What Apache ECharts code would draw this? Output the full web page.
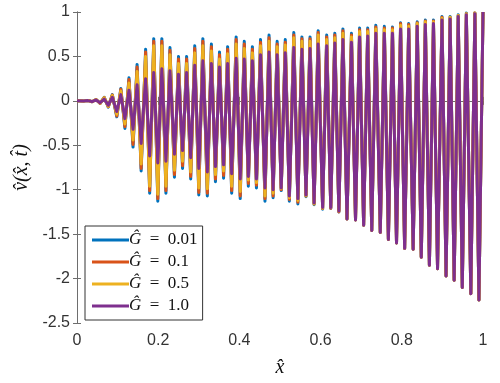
<!DOCTYPE html>
<html>
<head>
<meta charset="utf-8">
<script src="https://cdn.jsdelivr.net/npm/echarts@6/dist/echarts.min.js"></script>
<style>
  html, body { margin: 0; padding: 0; background: #fff; }
  #chart { width: 500px; height: 383px; }
</style>
</head>
<body>
<div id="chart"></div>
<script>
// extrema of the oscillation (x-hat positions)
const xs = [0, 0.016, 0.027, 0.037, 0.047, 0.057, 0.067, 0.077, 0.087, 0.098, 0.108,
  0.118, 0.128, 0.138, 0.148, 0.158, 0.169, 0.179, 0.189, 0.199, 0.209,
  0.219, 0.229, 0.240, 0.250, 0.260, 0.270, 0.280, 0.290, 0.300, 0.310,
  0.321, 0.331, 0.341, 0.351, 0.361, 0.371, 0.381, 0.392, 0.402, 0.412,
  0.422, 0.432, 0.442, 0.452, 0.463, 0.473, 0.483, 0.493, 0.503, 0.513,
  0.523, 0.534, 0.544, 0.554, 0.564, 0.574, 0.584, 0.594, 0.605, 0.615,
  0.625, 0.635, 0.645, 0.655, 0.665, 0.676, 0.686, 0.696, 0.706, 0.716,
  0.726, 0.736, 0.747, 0.757, 0.767, 0.777, 0.787, 0.797, 0.807, 0.817,
  0.828, 0.838, 0.848, 0.858, 0.868, 0.878, 0.888, 0.899, 0.909, 0.919,
  0.929, 0.939, 0.949, 0.959, 0.970, 0.980, 0.990, 1.000];

// G = 0.01
const vBlue = [0, -0.003, 0.005, -0.010, 0.015, -0.03, 0.04, -0.07, 0.07, -0.18, 0.14,
  -0.31, 0.26, -0.52, 0.41, -0.79, 0.58, -1.04, 0.70, -1.13, 0.70,
  -1.04, 0.60, -0.86, 0.50, -0.76, 0.50, -0.88, 0.62, -1.06, 0.70,
  -1.07, 0.64, -0.91, 0.55, -0.87, 0.61, -1.04, 0.72, -1.10, 0.67,
  -0.96, 0.61, -0.98, 0.69, -1.13, 0.74, -1.09, 0.67, -1.01, 0.69,
  -1.13, 0.77, -1.16, 0.72, -1.08, 0.72, -1.17, 0.79, -1.22, 0.74,
  -1.21, 0.76, -1.25, 0.81, -1.33, 0.76, -1.34, 0.82, -1.40, 0.82,
  -1.46, 0.85, -1.48, 0.84, -1.56, 0.83, -1.60, 0.88, -1.66, 0.87,
  -1.67, 0.89, -1.76, 0.91, -1.85, 0.91, -1.89, 0.95, -1.97, 0.95,
  -2.02, 0.97, -2.10, 0.99, -2.17, 0.99, -2.24, 1.00];

// G = 0.1
const vOrange = [0, -0.003, 0.005, -0.010, 0.014, -0.028, 0.038, -0.066, 0.066, -0.17, 0.13,
  -0.29, 0.24, -0.49, 0.38, -0.76, 0.55, -1.01, 0.67, -1.10, 0.67,
  -1.01, 0.57, -0.83, 0.47, -0.73, 0.47, -0.85, 0.59, -1.03, 0.67,
  -1.04, 0.61, -0.88, 0.52, -0.84, 0.58, -1.01, 0.69, -1.07, 0.64,
  -0.93, 0.58, -0.95, 0.66, -1.10, 0.71, -1.07, 0.64, -1.00, 0.66,
  -1.11, 0.74, -1.14, 0.70, -1.07, 0.70, -1.16, 0.77, -1.21, 0.72,
  -1.21, 0.74, -1.25, 0.79, -1.33, 0.74, -1.34, 0.80, -1.40, 0.80,
  -1.46, 0.83, -1.48, 0.82, -1.56, 0.82, -1.60, 0.87, -1.66, 0.86,
  -1.67, 0.88, -1.76, 0.90, -1.85, 0.90, -1.89, 0.94, -1.97, 0.94,
  -2.02, 0.96, -2.10, 0.98, -2.17, 0.99, -2.24, 1.00];

// G = 0.5
const vYellow = [0, -0.003, 0.004, -0.009, 0.013, -0.026, 0.035, -0.062, 0.06, -0.15, 0.11,
  -0.26, 0.20, -0.44, 0.33, -0.71, 0.50, -0.96, 0.62, -1.05, 0.62,
  -0.96, 0.52, -0.78, 0.42, -0.68, 0.42, -0.80, 0.54, -0.98, 0.62,
  -0.99, 0.56, -0.83, 0.47, -0.79, 0.53, -0.96, 0.64, -1.02, 0.59,
  -0.89, 0.54, -0.92, 0.62, -1.07, 0.67, -1.04, 0.61, -0.99, 0.63,
  -1.09, 0.71, -1.12, 0.67, -1.07, 0.67, -1.16, 0.74, -1.21, 0.69,
  -1.20, 0.71, -1.24, 0.76, -1.33, 0.72, -1.34, 0.78, -1.40, 0.78,
  -1.46, 0.81, -1.48, 0.80, -1.56, 0.80, -1.60, 0.85, -1.66, 0.84,
  -1.67, 0.87, -1.76, 0.89, -1.85, 0.89, -1.89, 0.93, -1.97, 0.94,
  -2.02, 0.96, -2.10, 0.98, -2.17, 0.99, -2.24, 1.00];

// G = 1.0
const vPurple = [0, -0.002, 0.003, -0.008, 0.010, -0.02, 0.02, -0.05, 0.04, -0.12, 0.07,
  -0.20, 0.12, -0.32, 0.18, -0.48, 0.25, -0.62, 0.32, -0.70, 0.36,
  -0.68, 0.34, -0.60, 0.30, -0.56, 0.32, -0.64, 0.40, -0.76, 0.45,
  -0.80, 0.42, -0.74, 0.38, -0.72, 0.42, -0.82, 0.48, -0.88, 0.47,
  -0.85, 0.45, -0.88, 0.52, -0.98, 0.55, -1.00, 0.52, -0.98, 0.54,
  -1.07, 0.60, -1.10, 0.58, -1.06, 0.59, -1.15, 0.64, -1.20, 0.62,
  -1.20, 0.65, -1.24, 0.69, -1.33, 0.66, -1.34, 0.72, -1.40, 0.73,
  -1.46, 0.76, -1.48, 0.76, -1.56, 0.76, -1.60, 0.81, -1.66, 0.81,
  -1.67, 0.84, -1.76, 0.86, -1.85, 0.87, -1.89, 0.91, -1.97, 0.92,
  -2.02, 0.95, -2.10, 0.97, -2.17, 0.98, -2.24, 1.00];

const gValues = ["0.01", "0.1", "0.5", "1.0"];
const colors = ["#0072BD", "#D95319", "#EDB120", "#7E2F8E"];
const xTicks = [0, 0.2, 0.4, 0.6, 0.8, 1];
const yTicks = [1, 0.5, 0, -0.5, -1, -1.5, -2, -2.5];

const allVals = [vBlue, vOrange, vYellow, vPurple];
const axisColor = "#6e6e6e";
const labelColor = "#333";

const myChart = echarts.init(document.getElementById("chart"));

const series = allVals.map((vals, i) => ({
  name: "G" + gValues[i],
  type: "line",
  showSymbol: false,
  symbol: "none",
  data: xs.map((x, k) => [x, vals[k]]),
  lineStyle: { color: colors[i], width: 3, join: "round" },
  itemStyle: { color: colors[i] },
  xAxisIndex: 0,
  yAxisIndex: 0,
}));

myChart.setOption({
  animation: false,
  grid: { left: 77, right: 17, top: 12, bottom: 60 },
  legend: {
    orient: "vertical",
    left: 85,
    top: 226,
    padding: [5, 5, 5, 7],
    itemGap: 4,
    itemWidth: 37,
    itemHeight: 3,
    icon: "rect",
    backgroundColor: "#fff",
    borderColor: "#333",
    borderWidth: 1,
    borderRadius: 0,
    data: series.map((s) => s.name),
    formatter: (name) => {
      const i = series.findIndex((s) => s.name === name);
      return "{g|G\u0302}\u2002=\u2002" + gValues[i];
    },
    textStyle: {
      fontFamily: "Liberation Serif",
      fontSize: 17,
      color: "#111",
      lineHeight: 18,
      padding: [0, 0, 0, -5],
      rich: {
        g: { fontFamily: "Liberation Serif", fontStyle: "italic", fontSize: 17, color: "#111" },
      },
    },
  },
  xAxis: [
    {
      type: "value",
      min: 0,
      max: 1,
      interval: 0.2,
      position: "bottom",
      name: "x\u0302",
      nameLocation: "middle",
      nameGap: 35,
      nameTextStyle: { fontFamily: "Liberation Serif", fontStyle: "italic", fontSize: 20, color: "#111" },
      axisLine: { show: true, lineStyle: { color: axisColor, width: 1 } },
      axisTick: { show: true, inside: true, length: 4, lineStyle: { color: axisColor } },
      axisLabel: { margin: 10, fontFamily: "Liberation Sans", fontSize: 16, color: labelColor,
        formatter: (v) => String(xTicks.find((t) => Math.abs(t - v) < 1e-6) ?? v) },
      splitLine: { show: false },
    },
    {
      type: "value",
      min: 0,
      max: 1,
      interval: 0.2,
      position: "top",
      axisLine: { show: true, lineStyle: { color: axisColor, width: 1 } },
      axisTick: { show: true, inside: true, length: 4, lineStyle: { color: axisColor } },
      axisLabel: { show: false },
      splitLine: { show: false },
    },
  ],
  yAxis: [
    {
      type: "value",
      min: -2.5,
      max: 1,
      interval: 0.5,
      position: "left",
      name: "v\u0302(x\u0302, t\u0302)",
      nameLocation: "middle",
      nameGap: 38,
      nameTextStyle: { fontFamily: "Liberation Serif", fontStyle: "italic", fontSize: 20, color: "#111" },
      axisLine: { show: true, lineStyle: { color: axisColor, width: 1 } },
      axisTick: { show: true, inside: true, length: 4, lineStyle: { color: axisColor } },
      axisLabel: { margin: 7, fontFamily: "Liberation Sans", fontSize: 16, color: labelColor,
        formatter: (v) => String(yTicks.find((t) => Math.abs(t - v) < 1e-6) ?? v) },
      splitLine: { show: false },
    },
    {
      type: "value",
      min: -2.5,
      max: 1,
      interval: 0.5,
      position: "right",
      axisLine: { show: true, lineStyle: { color: axisColor, width: 1 } },
      axisTick: { show: true, inside: true, length: 4, lineStyle: { color: axisColor } },
      axisLabel: { show: false },
      splitLine: { show: false },
    },
  ],
  series: series,
});
</script>
</body>
</html>
